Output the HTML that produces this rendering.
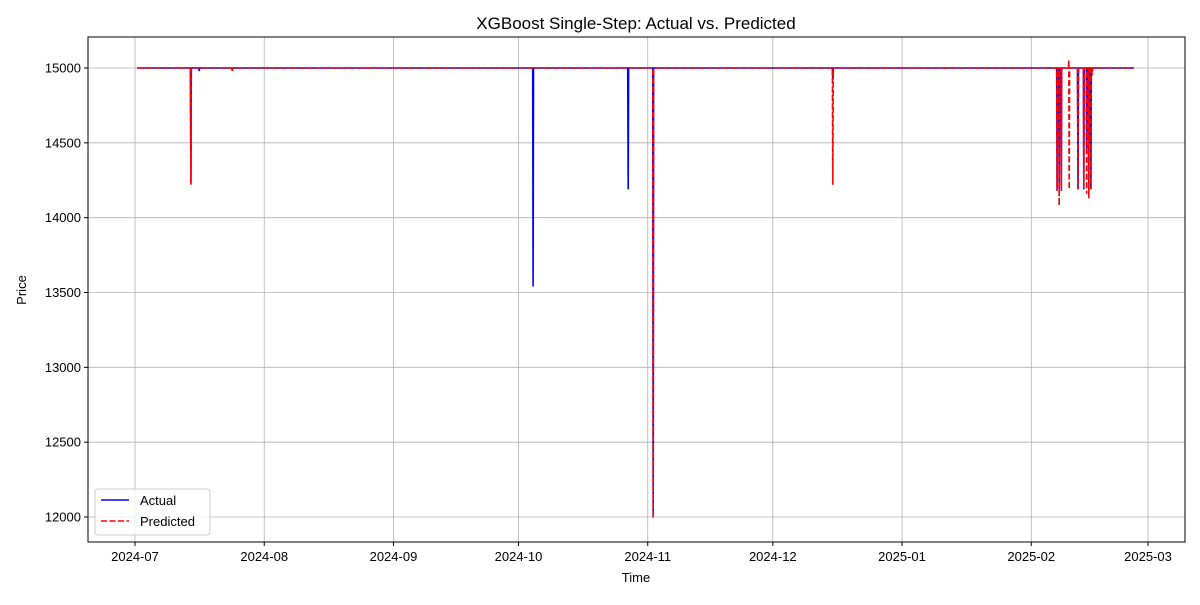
<!DOCTYPE html>
<html><head><meta charset="utf-8"><style>
body{margin:0;background:#fff;font-family:"Liberation Sans","DejaVu Sans",sans-serif}
</style></head><body>
<svg id="c" width="1200" height="600" font-family="Liberation Sans, DejaVu Sans, sans-serif">
<rect width="1200" height="600" fill="#fff"/>
<text x="636" y="29" text-anchor="middle" font-size="17">XGBoost Single-Step: Actual vs. Predicted</text>
<text x="636" y="582" text-anchor="middle" font-size="13">Time</text>
<text transform="translate(26,290) rotate(-90)" text-anchor="middle" font-size="13">Price</text>
<g id="grid"></g><g id="series"></g><g id="axes"></g>
<rect x="88" y="37" width="1097" height="505" fill="none" stroke="#000" stroke-width="1"/>
<g>
<rect x="95" y="489" width="115" height="46" fill="#fff" fill-opacity="0.8" stroke="#ccc" rx="3"/>
<line x1="101" y1="500" x2="129" y2="500" stroke="blue" stroke-width="1.6"/>
<text x="140" y="505" font-size="13">Actual</text>
<line x1="101" y1="521" x2="129" y2="521" stroke="red" stroke-width="1.6" stroke-dasharray="6,2.5"/>
<text x="140" y="526" font-size="13">Predicted</text>
</g>
</svg>
<script>
const times=[0.5,13.3,13.4,13.5,15.3,15.4,15.5,23.2,23.3,23.4,95.4,95.5,95.6,118.2,118.3,118.4,124.2,124.3,124.4,167.3,167.4,167.5,
221.1,221.2,221.3,221.6,221.7,221.8,222.1,222.2,222.3,223.9,224.0,224.1,224.2,226.1,226.2,226.3,227.5,227.6,227.7,228.2,228.3,228.4,228.7,228.8,228.9,229.2,229.3,229.4,229.5,229.6,229.7,239.6];
const actual=[15000,15000,14230,15000,15000,14980,15000,15000,15000,15000,15000,13540,15000,15000,14190,15000,15000,12000,15000,15000,14920,15000,
15000,14180,15000,15000,14190,15000,15000,14180,15000,15000,15000,15000,15000,15000,14190,15000,15000,14190,15000,15000,14450,15000,15000,14190,15000,15000,14190,15000,15000,14980,15000,15000];
const predicted=[15000,15000,14220,15000,15000,15000,15000,15000,14975,15000,15000,15000,15000,15000,15000,15000,15000,11990,15000,15000,14220,15000,
15000,14180,15000,15000,14080,15000,15000,14180,15000,15000,15050,14190,15000,15000,14190,15000,15000,14200,15000,15000,14160,15000,15000,14130,15000,15000,14190,15000,15000,14950,15000,15000];
const xTickDays=[0,31,62,92,123,153,184,215,243];
const xTickLabels=["2024-07","2024-08","2024-09","2024-10","2024-11","2024-12","2025-01","2025-02","2025-03"];
const yTicks=[12000,12500,13000,13500,14000,14500,15000];
const NS="http://www.w3.org/2000/svg";
const xs=d=>135+d*(1148-135)/243;
const ys=v=>68+(15000-v)*(517-68)/3000;
function mk(t,a,p){const e=document.createElementNS(NS,t);for(const k in a)e.setAttribute(k,a[k]);p.appendChild(e);return e;}
const G=document.getElementById('grid'),A=document.getElementById('axes'),S=document.getElementById('series');
xTickDays.forEach((d,i)=>{const x=xs(d);
 const g=mk('line',{x1:x,x2:x,y1:37,y2:542,stroke:'#b0b0b0','stroke-width':0.8},G);
 
 mk('line',{x1:x,x2:x,y1:542,y2:546,stroke:'#000'},A);
 const t=mk('text',{x:x,y:561,'text-anchor':'middle','font-size':13},A);t.textContent=xTickLabels[i];
 });
yTicks.forEach(v=>{const y=ys(v);
 const g=mk('line',{x1:88,x2:1185,y1:y,y2:y,stroke:'#b0b0b0','stroke-width':0.8},G);
 
 mk('line',{x1:84,x2:88,y1:y,y2:y,stroke:'#000'},A);
 const t=mk('text',{x:81,y:y+4.5,'text-anchor':'end','font-size':13},A);t.textContent=v;
 });
const pts=arr=>times.map((d,i)=>xs(d).toFixed(1)+','+ys(arr[i]).toFixed(1)).join(' ');
const la=mk('polyline',{points:pts(actual),fill:'none',stroke:'blue','stroke-width':1.6},S);

const lp=mk('polyline',{points:pts(predicted),fill:'none',stroke:'red','stroke-width':1.6,'stroke-dasharray':'6,2.5'},S);

</script>
</body></html>
